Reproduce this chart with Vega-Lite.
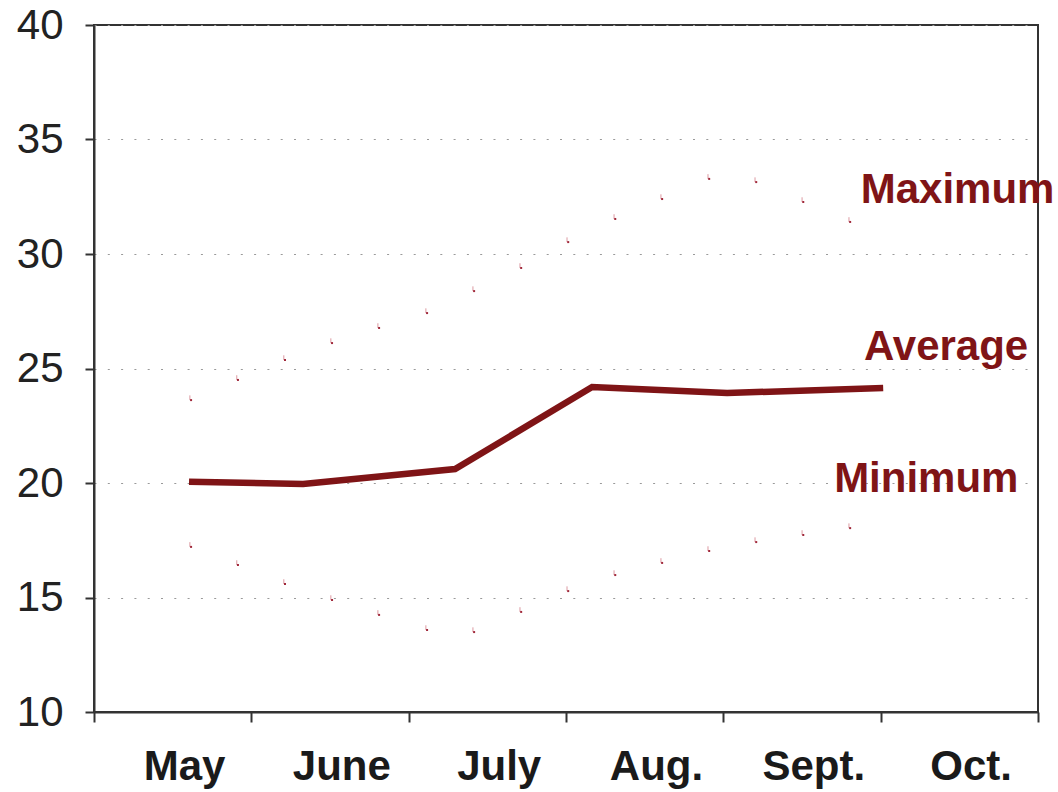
{
  "$schema": "https://vega.github.io/schema/vega-lite/v6.json",
  "width": 944,
  "height": 687,
  "autosize": {"type": "none"},
  "padding": {"left": 94, "top": 25, "right": 20, "bottom": 80},
  "background": "white",
  "config": {
    "view": {"stroke": "#333333", "strokeWidth": 2},
    "font": "Liberation Sans"
  },
  "datasets": {
    "avg": [
      {"m": 0.604, "t": 20.06},
      {"m": 1.329, "t": 19.96},
      {"m": 2.295, "t": 20.61},
      {"m": 3.166, "t": 24.19},
      {"m": 4.024, "t": 23.93},
      {"m": 5.016, "t": 24.15}
    ],
    "extremes": [
      {"series": "Maximum", "m": 0.617, "t": 23.62},
      {"series": "Maximum", "m": 0.915, "t": 24.50},
      {"series": "Maximum", "m": 1.214, "t": 25.37},
      {"series": "Maximum", "m": 1.513, "t": 26.11},
      {"series": "Maximum", "m": 1.812, "t": 26.77},
      {"series": "Maximum", "m": 2.117, "t": 27.42},
      {"series": "Maximum", "m": 2.416, "t": 28.38},
      {"series": "Maximum", "m": 2.715, "t": 29.39},
      {"series": "Maximum", "m": 3.014, "t": 30.52},
      {"series": "Maximum", "m": 3.313, "t": 31.53},
      {"series": "Maximum", "m": 3.611, "t": 32.40},
      {"series": "Maximum", "m": 3.910, "t": 33.28},
      {"series": "Maximum", "m": 4.209, "t": 33.14},
      {"series": "Maximum", "m": 4.508, "t": 32.27},
      {"series": "Maximum", "m": 4.806, "t": 31.40},
      {"series": "Minimum", "m": 0.617, "t": 17.21},
      {"series": "Minimum", "m": 0.915, "t": 16.42},
      {"series": "Minimum", "m": 1.214, "t": 15.59},
      {"series": "Minimum", "m": 1.513, "t": 14.89},
      {"series": "Minimum", "m": 1.812, "t": 14.24},
      {"series": "Minimum", "m": 2.117, "t": 13.58},
      {"series": "Minimum", "m": 2.416, "t": 13.49},
      {"series": "Minimum", "m": 2.715, "t": 14.37},
      {"series": "Minimum", "m": 3.014, "t": 15.28},
      {"series": "Minimum", "m": 3.313, "t": 15.98},
      {"series": "Minimum", "m": 3.611, "t": 16.51},
      {"series": "Minimum", "m": 3.910, "t": 17.03},
      {"series": "Minimum", "m": 4.209, "t": 17.42},
      {"series": "Minimum", "m": 4.508, "t": 17.73},
      {"series": "Minimum", "m": 4.806, "t": 18.03}
    ],
    "labels": [
      {"label": "Maximum", "m": 5.489, "t": 32.24},
      {"label": "Average", "m": 5.416, "t": 25.37},
      {"label": "Minimum", "m": 5.29, "t": 19.61}
    ]
  },
  "encoding": {
    "x": {
      "field": "m",
      "type": "quantitative",
      "scale": {"domain": [0, 6], "nice": false, "zero": false},
      "axis": {
        "title": null,
        "values": [0, 1, 2, 3, 4, 5, 6],
        "labelExpr": "['May','June','July','Aug.','Sept.','Oct.',''][datum.value]",
        "labelOffset": 90,
        "labelOverlap": false,
        "labelBound": false,
        "labelFlush": false,
        "labelFont": "Liberation Sans",
        "labelFontSize": 42,
        "labelFontWeight": "bold",
        "labelColor": "#1a1a1a",
        "labelPadding": 24,
        "tickSize": 10,
        "tickColor": "#333333",
        "tickWidth": 2,
        "domainColor": "#333333",
        "domainWidth": 2,
        "grid": false
      }
    },
    "y": {
      "field": "t",
      "type": "quantitative",
      "scale": {"domain": [10, 40], "nice": false, "zero": false},
      "axis": {
        "title": null,
        "values": [10, 15, 20, 25, 30, 35, 40],
        "labelFont": "Liberation Sans",
        "labelFontSize": 42,
        "labelColor": "#222222",
        "labelPadding": 22,
        "labelOverlap": false,
        "labelBound": false,
        "labelFlush": false,
        "tickSize": 9,
        "tickColor": "#333333",
        "tickWidth": 2,
        "domainColor": "#333333",
        "domainWidth": 2,
        "grid": true,
        "gridColor": "#9a9a9a",
        "gridWidth": 1.2,
        "gridDash": [2, 11.3]
      }
    }
  },
  "layer": [
    {
      "data": {"name": "extremes"},
      "mark": {"type": "point", "shape": "M-0.25,-1V0", "size": 90, "filled": false, "stroke": "#dc9aa2", "strokeWidth": 1, "opacity": 1}
    },
    {
      "data": {"name": "extremes"},
      "mark": {"type": "square", "size": 4, "color": "#a0283a", "opacity": 1}
    },
    {
      "data": {"name": "avg"},
      "mark": {"type": "line", "color": "#7f1416", "strokeWidth": 6.5, "strokeJoin": "miter", "strokeCap": "butt"}
    },
    {
      "data": {"name": "labels"},
      "mark": {"type": "text", "font": "Liberation Sans", "fontSize": 42, "fontWeight": "bold", "color": "#7f1416", "align": "center", "baseline": "alphabetic", "clip": false},
      "encoding": {"text": {"field": "label"}}
    }
  ]
}
